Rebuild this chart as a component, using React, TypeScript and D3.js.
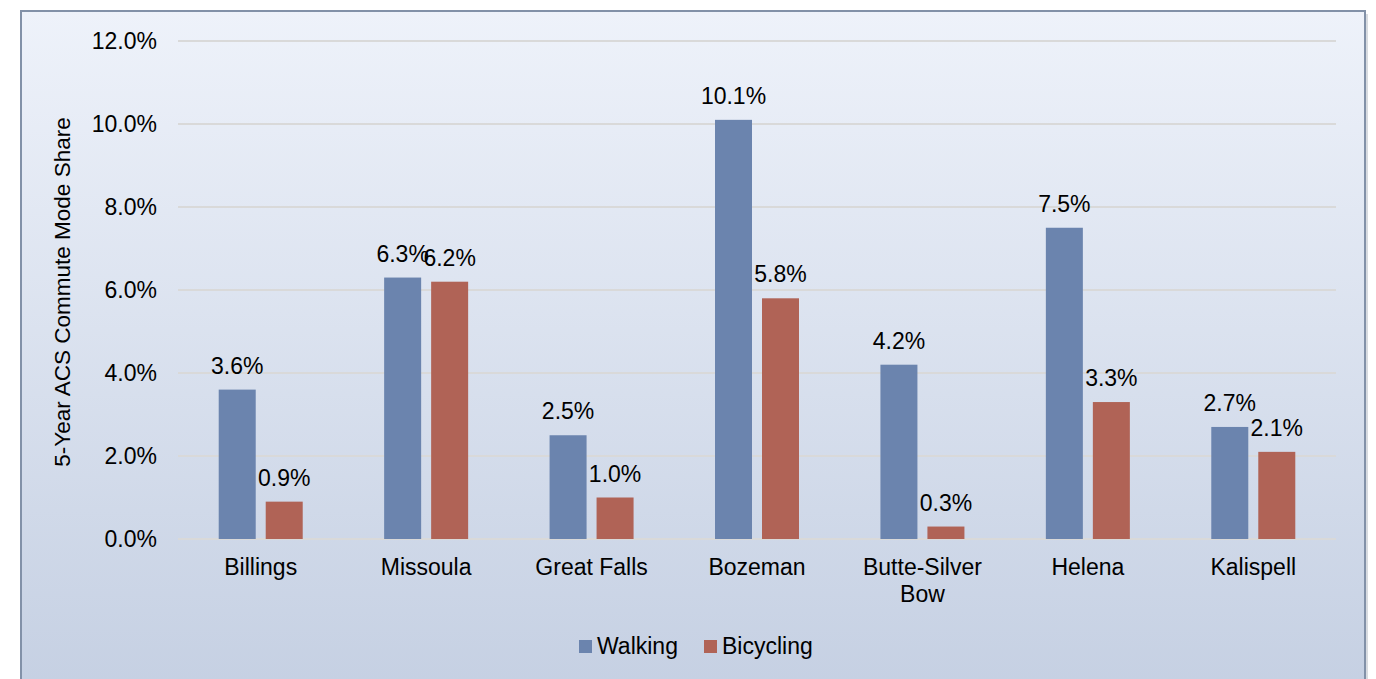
import { useEffect, useRef } from "react";
import * as d3 from "d3";

const cities = ["Billings", "Missoula", "Great Falls", "Bozeman", "Butte-Silver Bow", "Helena", "Kalispell"];
const walking = [3.6, 6.3, 2.5, 10.1, 4.2, 7.5, 2.7];
const bicycling = [0.9, 6.2, 1.0, 5.8, 0.3, 3.3, 2.1];
const yTicks = [0, 2, 4, 6, 8, 10, 12];
const seriesNames = ["Walking", "Bicycling"];
const seriesColors = ["#6b84ae", "#b06356"];

// category labels that wrap onto two lines in the original
const wrapped: Record<string, string[]> = {
  "Butte-Silver Bow": ["Butte-Silver", "Bow"],
};

const W = 1376;
const H = 679;

export default function App() {
  const svgRef = useRef<SVGSVGElement>(null);

  useEffect(() => {
    if (!svgRef.current) return;
    const svg = d3.select(svgRef.current);
    svg.selectAll("*").remove();

    const font = "Liberation Sans, Arial, sans-serif";
    const fs = 23;

    // background gradient + frame
    const defs = svg.append("defs");
    const grad = defs
      .append("linearGradient")
      .attr("id", "bg")
      .attr("x1", 0)
      .attr("y1", 0)
      .attr("x2", 0)
      .attr("y2", 1);
    grad.append("stop").attr("offset", "0%").attr("stop-color", "#eef2fa");
    grad.append("stop").attr("offset", "100%").attr("stop-color", "#c4cfe2");

    svg.append("rect").attr("width", W).attr("height", H).attr("fill", "#ffffff");
    svg
      .append("line")
      .attr("x1", 1367)
      .attr("x2", 1367)
      .attr("y1", 14)
      .attr("y2", H)
      .attr("stroke", "#d8dbe0")
      .attr("stroke-width", 2);
    svg
      .append("rect")
      .attr("x", 21)
      .attr("y", 11)
      .attr("width", 1344)
      .attr("height", 700)
      .attr("fill", "url(#bg)")
      .attr("stroke", "#8291a8")
      .attr("stroke-width", 2);

    const plot = { left: 178, right: 1336, top: 41, bottom: 539 };

    const x = d3.scaleBand<string>().domain(cities).range([plot.left, plot.right]).padding(0);
    const y = d3.scaleLinear().domain([0, 12]).range([plot.bottom, plot.top]);

    const barW = 37;
    const gap = 10;
    const offsets = [-(gap / 2 + barW), gap / 2];

    // grid lines
    svg
      .append("g")
      .selectAll("line")
      .data(yTicks)
      .join("line")
      .attr("x1", plot.left)
      .attr("x2", plot.right)
      .attr("y1", (d) => y(d))
      .attr("y2", (d) => y(d))
      .attr("stroke", "#d9d9d9")
      .attr("stroke-width", 2);

    // y tick labels
    svg
      .append("g")
      .selectAll("text")
      .data(yTicks)
      .join("text")
      .attr("x", 157)
      .attr("y", (d) => y(d) + 8)
      .attr("text-anchor", "end")
      .attr("font-family", font)
      .attr("font-size", fs)
      .attr("fill", "#000")
      .text((d) => d.toFixed(1) + "%");

    // y title
    svg
      .append("text")
      .attr("transform", `translate(70,${(plot.top + plot.bottom) / 2 + 2}) rotate(-90)`)
      .attr("text-anchor", "middle")
      .attr("font-family", font)
      .attr("font-size", 22.5)
      .attr("fill", "#000")
      .text("5-Year ACS Commute Mode Share");

    // bars + labels
    const series = [walking, bicycling];
    series.forEach((vals, si) => {
      const g = svg.append("g");
      g.selectAll("rect")
        .data(vals)
        .join("rect")
        .attr("x", (_, i) => x(cities[i])! + x.bandwidth() / 2 + offsets[si])
        .attr("y", (d) => y(d))
        .attr("width", barW)
        .attr("height", (d) => plot.bottom - y(d))
        .attr("fill", seriesColors[si]);
      g.selectAll("text")
        .data(vals)
        .join("text")
        .attr("x", (_, i) => x(cities[i])! + x.bandwidth() / 2 + offsets[si] + barW / 2)
        .attr("y", (d) => y(d) - 16)
        .attr("text-anchor", "middle")
        .attr("font-family", font)
        .attr("font-size", fs)
        .attr("fill", "#000")
        .text((d) => d.toFixed(1) + "%");
    });

    // category labels
    const cat = svg.append("g");
    cities.forEach((c) => {
      const lines = wrapped[c] ?? [c];
      const t = cat
        .append("text")
        .attr("text-anchor", "middle")
        .attr("font-family", font)
        .attr("font-size", fs)
        .attr("fill", "#000");
      lines.forEach((ln, li) => {
        t.append("tspan")
          .attr("x", x(c)! + x.bandwidth() / 2)
          .attr("y", 575 + li * 27)
          .text(ln);
      });
    });

    // legend
    const legendX = [579, 704];
    seriesNames.forEach((name, i) => {
      svg
        .append("rect")
        .attr("x", legendX[i])
        .attr("y", 640)
        .attr("width", 13)
        .attr("height", 13)
        .attr("fill", seriesColors[i]);
      svg
        .append("text")
        .attr("x", legendX[i] + 18)
        .attr("y", 654)
        .attr("font-family", font)
        .attr("font-size", fs)
        .attr("fill", "#000")
        .text(name);
    });
  }, []);

  return (
    <div style={{ position: "absolute", left: 0, top: 0 }}>
      <svg ref={svgRef} width={W} height={H} style={{ display: "block" }} />
    </div>
  );
}
